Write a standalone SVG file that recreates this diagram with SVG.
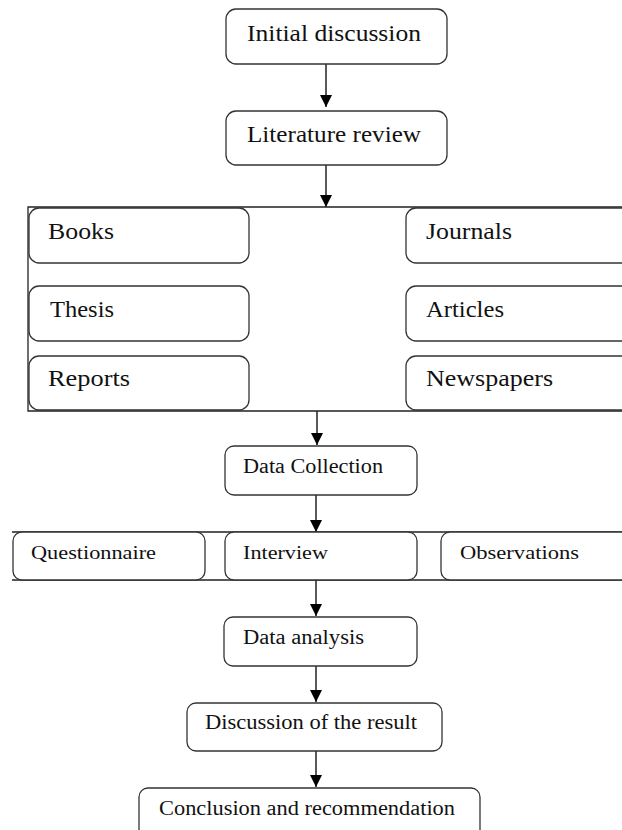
<svg xmlns="http://www.w3.org/2000/svg" width="622" height="830" viewBox="0 0 622 830">
<defs>
<marker id="ah" markerWidth="12" markerHeight="12" viewBox="0 0 12 12" refX="12" refY="6" orient="auto" markerUnits="userSpaceOnUse">
<path d="M0,0 L12,6 L0,12 Z" fill="#000"/>
</marker>
<style>
.box{fill:#fff;stroke:#333;stroke-width:1.3}
.ln{stroke:#222;stroke-width:1.3;fill:none}
.ar{stroke:#222;stroke-width:1.5;fill:none;marker-end:url(#ah)}
.t{font-family:"Liberation Serif","Times New Roman",serif;fill:#111}
.l{font-size:23px}
.m{font-size:20px}
.s{font-size:19px}
</style>
</defs>
<rect width="622" height="830" fill="#fff"/>
<g id="connectors">
<path class="ar" d="M326,64 V107"/>
<path class="ar" d="M326,165 V207"/>
<path class="ln" d="M622,207 H28 V411 H622"/>
<path class="ar" d="M317,411 V445"/>
<path class="ar" d="M316,495 V532"/>
<path class="ln" d="M12,532 H622 M12,580 H622"/>
<path class="ar" d="M316,580 V616"/>
<path class="ar" d="M316,666 V702"/>
<path class="ar" d="M316,751 V787"/>
</g>
<g id="initial"><rect class="box" x="226" y="9" width="221" height="55" rx="10"/><text class="t l" x="247" y="41" textLength="174" lengthAdjust="spacingAndGlyphs">Initial discussion</text></g>
<g id="literature"><rect class="box" x="226" y="111" width="221" height="54" rx="10"/><text class="t l" x="247" y="142" textLength="174" lengthAdjust="spacingAndGlyphs">Literature review</text></g>
<g id="books"><rect class="box" x="29" y="208" width="220" height="55" rx="10"/><text class="t l" x="48" y="239" textLength="66" lengthAdjust="spacingAndGlyphs">Books</text></g>
<g id="thesis"><rect class="box" x="29" y="286" width="220" height="55" rx="10"/><text class="t l" x="50" y="317" textLength="64" lengthAdjust="spacingAndGlyphs">Thesis</text></g>
<g id="reports"><rect class="box" x="29" y="356" width="220" height="54" rx="10"/><text class="t l" x="48" y="386" textLength="82" lengthAdjust="spacingAndGlyphs">Reports</text></g>
<g id="journals"><rect class="box" x="406" y="208" width="230" height="55" rx="10"/><text class="t l" x="426" y="239" textLength="86" lengthAdjust="spacingAndGlyphs">Journals</text></g>
<g id="articles"><rect class="box" x="406" y="286" width="230" height="55" rx="10"/><text class="t l" x="426" y="317" textLength="78" lengthAdjust="spacingAndGlyphs">Articles</text></g>
<g id="newspapers"><rect class="box" x="406" y="356" width="230" height="54" rx="10"/><text class="t l" x="426" y="386" textLength="127" lengthAdjust="spacingAndGlyphs">Newspapers</text></g>
<g id="datacollection"><rect class="box" x="225" y="446" width="192" height="49" rx="9"/><text class="t m" x="243" y="473" textLength="140" lengthAdjust="spacingAndGlyphs">Data Collection</text></g>
<g id="questionnaire"><rect class="box" x="13" y="532" width="192" height="48" rx="9"/><text class="t s" x="31" y="559" textLength="125" lengthAdjust="spacingAndGlyphs">Questionnaire</text></g>
<g id="interview"><rect class="box" x="225" y="532" width="192" height="48" rx="9"/><text class="t s" x="243" y="559" textLength="85" lengthAdjust="spacingAndGlyphs">Interview</text></g>
<g id="observations"><rect class="box" x="441" y="532" width="200" height="48" rx="9"/><text class="t s" x="460" y="559" textLength="119" lengthAdjust="spacingAndGlyphs">Observations</text></g>
<g id="dataanalysis"><rect class="box" x="224" y="617" width="193" height="49" rx="9"/><text class="t m" x="243" y="644" textLength="121" lengthAdjust="spacingAndGlyphs">Data analysis</text></g>
<g id="discussion"><rect class="box" x="187" y="703" width="255" height="48" rx="9"/><text class="t m" x="205" y="729" textLength="212" lengthAdjust="spacingAndGlyphs">Discussion of the result</text></g>
<g id="conclusion"><rect class="box" x="139" y="788" width="341" height="62" rx="9"/><text class="t m" x="159" y="815" textLength="296" lengthAdjust="spacingAndGlyphs">Conclusion and recommendation</text></g>
</svg>
